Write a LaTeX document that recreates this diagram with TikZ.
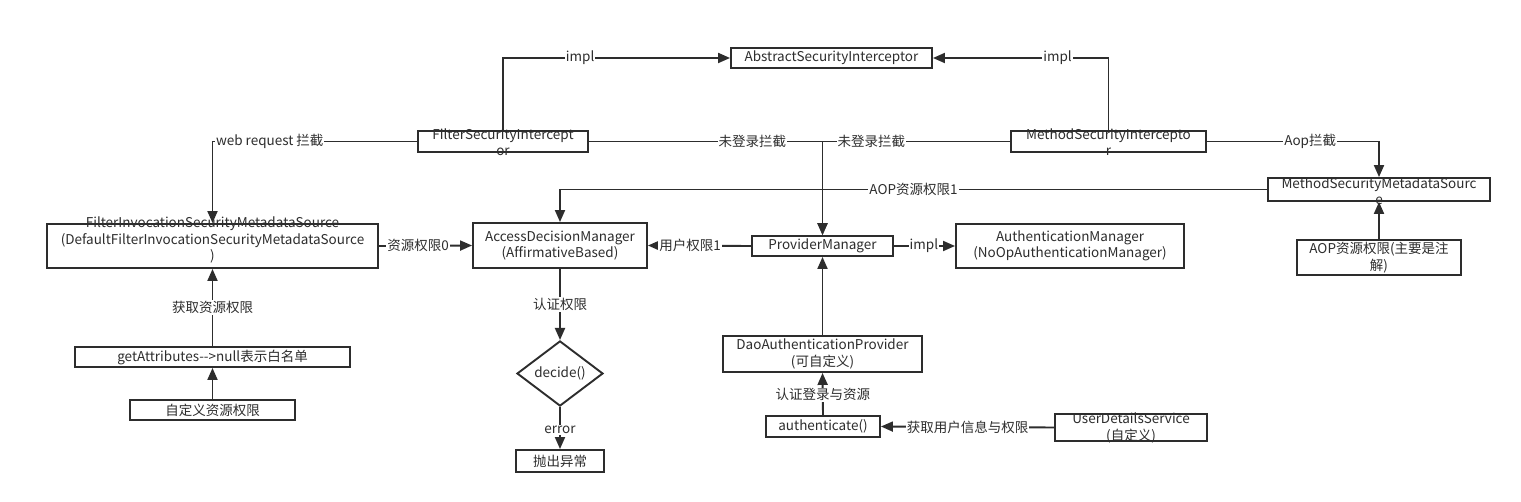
\documentclass[tikz,border=0pt]{standalone}
\usepackage{fontspec}
\setmainfont[Ligatures=NoCommon]{Noto Sans CJK SC}
\usetikzlibrary{arrows.meta,shapes.geometric}
\definecolor{ink}{RGB}{45,45,45}
\begin{document}
\begin{tikzpicture}[x=1pt,y=-1pt,
  every node/.style={font=\fontsize{13.5}{16.5}\selectfont, text=ink},
  box/.style={draw=ink, line width=1.9pt, fill=white, inner sep=0pt, align=center},
  txt/.style={inner sep=0pt, align=center},
  arr/.style={draw=ink, line width=1.9pt, -{Triangle[length=12pt,width=10pt]}},
  lbl/.style={fill=white, inner sep=1pt}
]
\useasboundingbox (0,0) rectangle (1521,502);
\fill[white] (0,0) rectangle (1521,502);

% nodes
\node[box, minimum width=201pt, minimum height=20pt] (asi) at (831.5,58) {AbstractSecurityInterceptor};
\node[box, minimum width=170pt, minimum height=21pt] (fsi) at (503,141.5) {};
\node[txt] at (503,142) {FilterSecurityIntercept\\or};
\node[box, minimum width=195pt, minimum height=21pt] (msi) at (1108.5,141.5) {};
\node[txt] at (1108.5,142) {MethodSecurityIntercepto\\r};
\node[box, minimum width=331pt, minimum height=44pt] (fims) at (212.5,246) {};
\node[txt] at (212.5,240) {FilterInvocationSecurityMetadataSource\\(DefaultFilterInvocationSecurityMetadataSource\\)};
\node[box, minimum width=174pt, minimum height=45pt] (adm) at (560,245.5) {AccessDecisionManager\\(AffirmativeBased)};
\node[box, minimum width=141pt, minimum height=20pt] (pm) at (822.5,246) {ProviderManager};
\node[box, minimum width=228pt, minimum height=44pt] (am) at (1070,246) {AuthenticationManager\\(NoOpAuthenticationManager)};
\node[box, minimum width=222pt, minimum height=23pt] (msms) at (1379,189.5) {};
\node[txt] at (1379,191) {MethodSecurityMetadataSourc\\e};
\node[box, minimum width=164pt, minimum height=35pt] (aop) at (1379,257.5) {AOP资源权限(主要是注\\解)};
\node[box, minimum width=275pt, minimum height=20pt] (ga) at (212.5,357) {getAttributes{-}{-}>null表示白名单};
\node[box, minimum width=165pt, minimum height=20pt] (cust) at (212.5,410) {自定义资源权限};
\node[diamond, draw=ink, line width=1.9pt, fill=white, inner sep=0pt, minimum width=86pt, minimum height=53pt] (dec) at (560,373.5) {decide()};
\node[box, minimum width=88pt, minimum height=22pt] (ex) at (560,461) {抛出异常};
\node[box, minimum width=199pt, minimum height=36pt] (dap) at (822.5,354) {DaoAuthenticationProvider\\(可自定义)};
\node[box, minimum width=114pt, minimum height=21pt] (auth) at (823,426.5) {authenticate()};
\node[box, minimum width=152pt, minimum height=27pt] (uds) at (1131,427.5) {};
\node[txt] at (1131,428) {UserDetailsService\\(自定义)};

% connectors
\draw[arr] (fsi.north) |- node[lbl, pos=0.67] {impl} (asi.west);
\draw[arr] (msi.north) |- node[lbl, pos=0.645] {impl} (asi.east);
\draw[arr] (fsi.west) -| node[lbl, pos=0.36] {web request 拦截} (fims.north);
\draw[arr] (fsi.east) -| node[lbl, pos=0.35] {未登录拦截} (pm.north);
\draw[arr] (msi.west) -| node[lbl, pos=0.37] {未登录拦截} (pm.north);
\draw[arr] (msi.east) -| node[lbl, pos=0.3] {Aop拦截} (msms.north);
\draw[arr] (msms.west) -| node[lbl, pos=0.25] {AOP资源权限1} (adm.north);
\draw[arr] (fims.east) -- node[lbl, pos=0.42] {资源权限0} (adm.west);
\draw[arr] (pm.west) -- node[lbl, pos=0.59] {用户权限1} (adm.east);
\draw[arr] (pm.east) -- node[lbl, pos=0.49] {impl} (am.west);
\draw[arr] (aop.north) -- (msms.south);
\draw[arr] (ga.north) -- node[lbl, pos=0.5] {获取资源权限} (fims.south);
\draw[arr] (cust.north) -- (ga.south);
\draw[arr] (adm.south) -- node[lbl, pos=0.5] {认证权限} (dec.north);
\draw[arr] (dec.south) -- node[lbl, pos=0.54] {error} (ex.north);
\draw[arr] (dap.north) -- (pm.south);
\draw[arr] (auth.north) -- node[lbl, pos=0.48] {认证登录与资源} (dap.south);
\draw[arr] (uds.west) -- node[lbl, pos=0.5] {获取用户信息与权限} (auth.east);
\end{tikzpicture}
\end{document}
